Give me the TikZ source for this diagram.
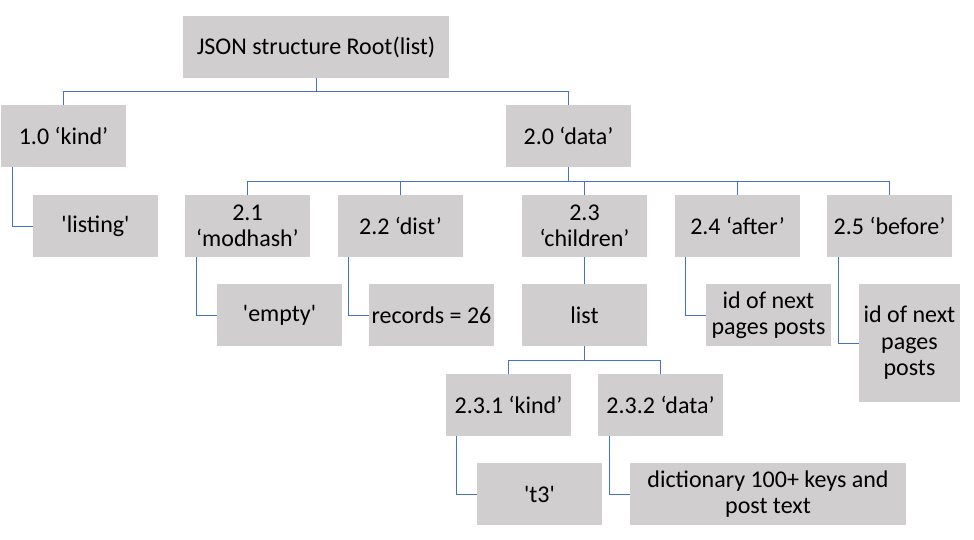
\documentclass[tikz,border=0pt]{standalone}
\usepackage{fontspec}
\setmainfont{Carlito}
\usepackage{tikz}
\usetikzlibrary{positioning,calc}
\definecolor{boxgray}{HTML}{D0CECE}
\definecolor{linkblue}{HTML}{4472C4}

\begin{document}
\begin{tikzpicture}[
    x=1pt, y=-1pt,
    box/.style={rectangle, fill=boxgray, minimum width=125pt, minimum height=62pt, align=center, inner sep=2pt, font=\fontsize{24}{26.5}\selectfont},
    link/.style={draw=linkblue, line width=1pt}
]
    \useasboundingbox (0,0) rectangle (974,540);

    \node[box, minimum width=266pt] (root) at (316,47) {JSON structure Root(list)};
    \node[box] (kind) at (63.5,136) {1.0 ‘kind’};
    \node[box] (data) at (568.5,136) {2.0 ‘data’};
    \node[box] (listing) at (95.5,226) {\textquotesingle listing\textquotesingle};

    \node[box] (modhash) at (247.5,226) {2.1\\‘modhash’};
    \node[box] (dist) at (400.5,226) {2.2 ‘dist’};
    \node[box] (children) at (584.5,226) {2.3\\‘children’};
    \node[box] (after) at (737.5,226) {2.4 ‘after’};
    \node[box] (before) at (889.5,226) {2.5 ‘before’};

    \node[box] (empty) at (279.5,315) {\textquotesingle empty\textquotesingle};
    \node[box] (records) at (431.5,315) {records = 26};
    \node[box] (list) at (584.5,315) {list};
    \node[box] (nextA) at (768.5,315) {id of next\\pages posts};
    \node[box, minimum width=101pt, minimum height=118pt] (nextB) at (909.5,343) {id of next\\pages\\posts};

    \node[box] (kindB) at (508.5,405) {2.3.1 ‘kind’};
    \node[box] (dataB) at (660.5,405) {2.3.2 ‘data’};
    \node[box] (t3) at (539.5,494) {\textquotesingle t3\textquotesingle};
    \node[box, minimum width=276pt] (dict) at (768,494) {dictionary 100+ keys and\\post text};

    % tree links
    \draw[link] (root.south) -- ++(0,13) -| (kind.north);
    \draw[link] (root.south) -- ++(0,13) -| (data.north);
    \foreach \c in {modhash,dist,children,after,before}
        \draw[link] (data.south) -- ++(0,14) -| (\c.north);
    \draw[link] (children.south) -- (list.north);
    \draw[link] (list.south) -- ++(0,14) -| (kindB.north);
    \draw[link] (list.south) -- ++(0,14) -| (dataB.north);

    % value links
    \draw[link] ([xshift=12pt]kind.south west) |- (listing.west);
    \draw[link] ([xshift=12pt]modhash.south west) |- (empty.west);
    \draw[link] ([xshift=11pt]dist.south west) |- (records.west);
    \draw[link] ([xshift=11pt]after.south west) |- (nextA.west);
    \draw[link] ([xshift=12pt]before.south west) |- (nextB.west);
    \draw[link] ([xshift=11pt]kindB.south west) |- (t3.west);
    \draw[link] ([xshift=12pt]dataB.south west) |- (dict.west);
\end{tikzpicture}
\end{document}
